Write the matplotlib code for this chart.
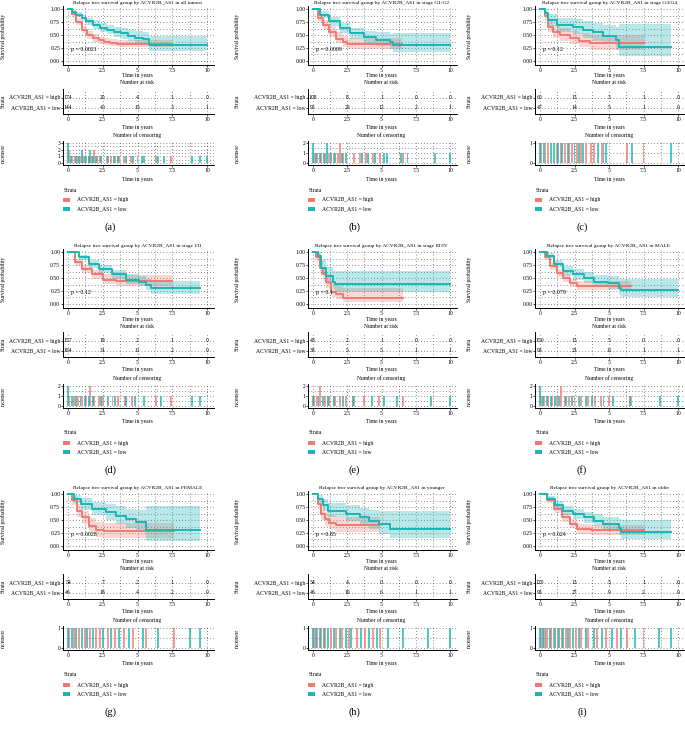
import numpy as np
import matplotlib
matplotlib.use("Agg")
import matplotlib.pyplot as plt
from matplotlib.patches import Rectangle
from matplotlib.ticker import MultipleLocator

plt.rcParams['font.family'] = ['Liberation Serif', 'DejaVu Serif']

# panel texts
subgroups = ["all tumors", "stage G1/G2", "stage G3/G4", "stage I/II", "stage III/IV",
             "MALE", "FEMALE", "younger", "older"]
panel_tags = ["(a)", "(b)", "(c)", "(d)", "(e)", "(f)", "(g)", "(h)", "(i)"]
p_values = ["0.0021", "0.0009", "0.12", "0.12", "0.1", "0.079", "0.0028", "0.85", "0.024"]
strata = ["ACVR2B_AS1 = high", "ACVR2B_AS1 = low"]
risk_times = [0, 2.5, 5, 7.5, 10]

# numbers at risk
risk_high = [[174, 20, 4, 1, 0], [108, 8, 1, 0, 0], [60, 13, 3, 1, 0],
             [157, 19, 2, 1, 0], [48, 2, 1, 0, 0], [150, 13, 5, 0, 0],
             [54, 7, 2, 1, 0], [54, 4, 0, 0, 0], [120, 13, 5, 1, 0]]
risk_low = [[144, 40, 15, 3, 1], [95, 29, 12, 2, 1], [47, 14, 5, 1, 0],
            [184, 31, 11, 2, 0], [38, 5, 5, 1, 1], [98, 23, 11, 1, 1],
            [46, 18, 4, 2, 0], [46, 19, 6, 1, 1], [98, 27, 9, 2, 0]]

# KM curves, high group
high_t = [[0, 0.3, 0.6, 1.0, 1.4, 1.8, 2.2, 2.6, 3.0, 3.5, 7.5],
          [0, 0.35, 0.7, 1.2, 1.7, 2.2, 2.45, 6.5],
          [0, 0.36, 0.6, 0.96, 1.45, 2.2, 2.8, 3.6, 7.5],
          [0, 0.5, 1.0, 1.75, 2.5, 3.45, 7.5],
          [0, 0.24, 0.48, 0.73, 0.97, 1.33, 1.7, 2.2, 6.6],
          [0, 0.37, 0.73, 1.2, 1.7, 2.2, 2.7, 6.6],
          [0, 0.3, 0.65, 1.0, 1.5, 2.0, 2.6, 7.6],
          [0, 0.36, 0.6, 0.85, 1.2, 1.7, 4.9],
          [0, 0.5, 1.0, 1.6, 2.2, 2.7, 3.7, 7.5]]
high_s = [[1, 0.9, 0.75, 0.6, 0.5, 0.44, 0.4, 0.37, 0.35, 0.33, 0.33],
          [1, 0.82, 0.69, 0.56, 0.43, 0.36, 0.33, 0.33],
          [1, 0.86, 0.66, 0.56, 0.5, 0.44, 0.39, 0.35, 0.35],
          [1, 0.8, 0.67, 0.57, 0.47, 0.44, 0.44],
          [1, 0.9, 0.7, 0.57, 0.43, 0.23, 0.2, 0.12, 0.12],
          [1, 0.9, 0.73, 0.6, 0.5, 0.4, 0.35, 0.35],
          [1, 0.88, 0.68, 0.55, 0.38, 0.3, 0.28, 0.28],
          [1, 0.81, 0.62, 0.52, 0.45, 0.4, 0.4],
          [1, 0.88, 0.72, 0.55, 0.42, 0.32, 0.3, 0.3]]
high_lo = [[1, 0.85, 0.69, 0.53, 0.43, 0.37, 0.33, 0.3, 0.28, 0.26, 0.26],
           [1, 0.75, 0.61, 0.47, 0.34, 0.27, 0.24, 0.24],
           [1, 0.77, 0.55, 0.45, 0.38, 0.32, 0.27, 0.22, 0.22],
           [1, 0.73, 0.59, 0.49, 0.38, 0.35, 0.33],
           [1, 0.82, 0.58, 0.44, 0.3, 0.13, 0.1, 0.04, 0.04],
           [1, 0.85, 0.66, 0.52, 0.42, 0.32, 0.27, 0.25],
           [1, 0.79, 0.56, 0.42, 0.26, 0.18, 0.16, 0.13],
           [1, 0.71, 0.5, 0.39, 0.32, 0.27, 0.27],
           [1, 0.82, 0.64, 0.47, 0.34, 0.24, 0.21, 0.2]]
high_hi = [[1, 0.95, 0.82, 0.67, 0.57, 0.51, 0.47, 0.44, 0.42, 0.41, 0.41],
           [1, 0.9, 0.79, 0.67, 0.55, 0.48, 0.45, 0.45],
           [1, 0.95, 0.78, 0.69, 0.63, 0.58, 0.54, 0.5, 0.5],
           [1, 0.87, 0.75, 0.66, 0.57, 0.55, 0.57],
           [1, 0.99, 0.84, 0.72, 0.58, 0.38, 0.35, 0.3, 0.3],
           [1, 0.95, 0.8, 0.68, 0.58, 0.49, 0.44, 0.46],
           [1, 0.97, 0.8, 0.68, 0.53, 0.46, 0.44, 0.44],
           [1, 0.92, 0.76, 0.66, 0.6, 0.56, 0.56],
           [1, 0.94, 0.8, 0.64, 0.51, 0.42, 0.4, 0.42]]

# KM curves, low group
low_t = [[0, 0.3, 0.6, 1.0, 1.3, 1.8, 2.3, 2.8, 3.3, 3.8, 4.3, 4.8, 5.4, 5.8, 10],
         [0, 0.5, 1.2, 2.0, 2.7, 3.7, 4.6, 5.6, 5.85, 10],
         [0, 0.36, 0.6, 1.2, 2.4, 3.1, 3.85, 4.6, 5.5, 5.7, 9.5],
         [0, 0.78, 1.5, 2.2, 3.2, 4.2, 5.1, 5.6, 6.0, 9.5],
         [0, 0.36, 0.6, 0.97, 1.45, 1.6, 10],
         [0, 0.5, 1.0, 1.7, 2.4, 3.2, 3.9, 4.9, 5.7, 5.85, 10],
         [0, 0.4, 0.9, 1.75, 2.7, 3.45, 4.2, 4.9, 5.6, 9.5],
         [0, 0.36, 0.73, 1.1, 2.4, 3.4, 4.1, 4.85, 5.6, 10],
         [0, 0.5, 1.1, 1.7, 2.4, 3.2, 3.9, 4.6, 5.7, 5.85, 9.5]]
low_s = [[1, 0.95, 0.89, 0.82, 0.76, 0.7, 0.64, 0.6, 0.56, 0.53, 0.49, 0.45, 0.42, 0.31, 0.31],
         [1, 0.89, 0.76, 0.63, 0.53, 0.46, 0.41, 0.36, 0.31, 0.31],
         [1, 0.92, 0.79, 0.69, 0.66, 0.6, 0.55, 0.49, 0.4, 0.27, 0.27],
         [1, 0.9, 0.77, 0.67, 0.57, 0.47, 0.43, 0.37, 0.31, 0.31],
         [1, 0.93, 0.7, 0.53, 0.43, 0.38, 0.38],
         [1, 0.93, 0.77, 0.63, 0.57, 0.5, 0.43, 0.4, 0.3, 0.26, 0.26],
         [1, 0.91, 0.81, 0.72, 0.65, 0.58, 0.52, 0.46, 0.3, 0.3],
         [1, 0.91, 0.78, 0.68, 0.62, 0.55, 0.49, 0.42, 0.33, 0.33],
         [1, 0.91, 0.78, 0.68, 0.62, 0.55, 0.49, 0.42, 0.35, 0.27, 0.27]]
low_lo = [[1, 0.91, 0.84, 0.76, 0.69, 0.62, 0.56, 0.51, 0.47, 0.43, 0.39, 0.35, 0.31, 0.19, 0.19],
          [1, 0.83, 0.68, 0.54, 0.43, 0.35, 0.29, 0.23, 0.17, 0.17],
          [1, 0.84, 0.68, 0.56, 0.52, 0.45, 0.39, 0.32, 0.22, 0.1, 0.1],
          [1, 0.85, 0.7, 0.59, 0.49, 0.38, 0.34, 0.27, 0.2, 0.2],
          [1, 0.85, 0.56, 0.38, 0.28, 0.23, 0.23],
          [1, 0.88, 0.69, 0.54, 0.47, 0.4, 0.33, 0.29, 0.18, 0.14, 0.14],
          [1, 0.83, 0.7, 0.59, 0.5, 0.42, 0.35, 0.28, 0.1, 0.1],
          [1, 0.83, 0.67, 0.55, 0.48, 0.4, 0.33, 0.24, 0.15, 0.15],
          [1, 0.86, 0.7, 0.59, 0.52, 0.44, 0.38, 0.3, 0.22, 0.13, 0.13]]
low_hi = [[1, 0.99, 0.95, 0.89, 0.83, 0.78, 0.73, 0.69, 0.66, 0.63, 0.6, 0.57, 0.55, 0.48, 0.48],
          [1, 0.96, 0.85, 0.73, 0.64, 0.58, 0.55, 0.52, 0.54, 0.54],
          [1, 1, 0.91, 0.83, 0.81, 0.77, 0.74, 0.7, 0.66, 0.72, 0.72],
          [1, 0.95, 0.84, 0.75, 0.66, 0.57, 0.53, 0.49, 0.44, 0.44],
          [1, 1, 0.86, 0.72, 0.65, 0.63, 0.63],
          [1, 0.98, 0.85, 0.73, 0.67, 0.61, 0.55, 0.53, 0.48, 0.48, 0.48],
          [1, 0.99, 0.92, 0.85, 0.8, 0.76, 0.72, 0.7, 0.77, 0.77],
          [1, 0.99, 0.9, 0.82, 0.78, 0.74, 0.7, 0.67, 0.67, 0.67],
          [1, 0.96, 0.86, 0.77, 0.72, 0.66, 0.62, 0.56, 0.52, 0.5, 0.5]]

# censoring times (a repeated time = two censored at that time)
cens_high = [[0.1, 0.1, 0.3, 0.5, 0.7, 0.9, 1.1, 1.3, 1.5, 1.7, 1.9, 1.9, 2.1, 2.3, 2.8, 3.1, 3.4, 3.7, 4.0, 4.5, 5.0, 6.3, 7.4],
             [0.1, 0.3, 0.6, 0.9, 1.2, 1.5, 1.8, 1.95, 1.95, 2.2, 3.0, 3.4, 3.9, 4.4, 4.9, 6.6],
             [0.1, 0.4, 0.6, 1.2, 1.5, 1.8, 2.1, 2.3, 2.7, 3.0, 3.3, 3.7, 3.9, 4.5, 6.3, 7.5],
             [0.1, 0.4, 0.7, 1.0, 1.3, 1.6, 1.6, 1.9, 2.2, 2.5, 3.2, 3.6, 4.1, 4.6, 6.3, 7.4],
             [0.1, 0.3, 0.5, 0.5, 0.9, 1.2, 1.6, 2.0, 2.4, 3.0, 3.7, 4.8, 6.6],
             [0.1, 0.3, 0.6, 0.9, 1.2, 1.5, 1.5, 1.8, 2.1, 2.5, 3.0, 3.5, 4.0, 4.4, 5.0, 6.6],
             [0.1, 0.4, 0.8, 1.2, 1.6, 2.0, 2.3, 2.9, 3.4, 4.0, 4.7, 5.6, 7.6],
             [0.1, 0.3, 0.6, 0.9, 1.3, 1.7, 2.1, 2.6, 3.2, 3.8, 4.4, 4.9],
             [0.1, 0.3, 0.5, 0.8, 1.0, 1.3, 1.6, 1.9, 2.2, 2.6, 3.0, 3.5, 4.1, 4.8, 5.6, 6.3, 7.5]]
cens_low = [[0.0, 0.0, 0.0, 0.2, 0.6, 0.8, 1.0, 1.0, 1.2, 1.5, 1.6, 1.6, 1.8, 2.0, 2.4, 2.9, 3.3, 3.6, 4.2, 4.7, 5.3, 5.5, 6.5, 6.9, 8.9, 9.5, 10.0],
            [0.0, 0.0, 0.2, 0.5, 0.8, 1.0, 1.0, 1.3, 1.6, 2.1, 2.4, 3.6, 4.0, 4.5, 5.2, 5.4, 6.4, 6.9, 8.9, 10.0],
            [0.0, 0.3, 0.8, 1.0, 1.3, 1.6, 2.0, 2.5, 2.8, 3.1, 4.2, 4.6, 4.8, 6.7, 9.5],
            [0.0, 0.0, 0.3, 0.6, 0.9, 1.2, 1.5, 1.8, 2.4, 2.9, 3.4, 4.2, 4.8, 5.5, 6.7, 8.9, 9.5],
            [0.0, 0.4, 0.7, 1.1, 1.5, 2.2, 2.9, 4.3, 5.2, 6.1, 8.6, 10.0],
            [0.0, 0.0, 0.2, 0.5, 0.8, 1.1, 1.4, 1.9, 2.3, 2.8, 3.3, 3.8, 4.6, 5.3, 6.5, 8.7, 10.0],
            [0.0, 0.3, 0.6, 1.0, 1.4, 1.8, 2.5, 3.1, 3.7, 4.4, 5.4, 6.5, 8.8, 9.5],
            [0.0, 0.2, 0.5, 0.8, 1.1, 1.5, 2.0, 2.4, 2.8, 3.5, 4.1, 4.7, 5.5, 6.6, 8.4, 10.0],
            [0.0, 0.2, 0.4, 0.7, 1.1, 1.4, 1.7, 2.0, 2.4, 2.8, 3.3, 3.9, 4.5, 5.2, 5.9, 6.9, 8.6, 9.5]]
cens_max = [3, 2, 1, 2, 2, 2, 1, 1, 1]

RED = '#F07A72'
TEAL = '#1DB5B5'
W, H = 685, 729
FS = 4.1
XLIM = (-0.35, 10.5)

fig = plt.figure(figsize=(W / 100, H / 100), dpi=100)

# pixel positions of x=0 and x=10 for each column, vertical offset of each row
col_x0 = [68, 313, 540]
col_x10 = [207, 450, 678]
col_lab = [60, 71, 66]   # distance of the rotated y labels left of the axes
row_off = [0, 243, 485]


def add_px_axes(left, top, right, bottom):
    return fig.add_axes([left / W, 1 - bottom / H, (right - left) / W, (bottom - top) / H])


def ftext(x, y, s, **kw):
    fig.text(x / W, 1 - y / H, s, **kw)


def style(ax):
    for side in ['top', 'right']:
        ax.spines[side].set_visible(False)
    for side in ['left', 'bottom']:
        ax.spines[side].set_linewidth(0.7)
    ax.tick_params(labelsize=FS, length=1.5, width=0.5, pad=0.6)
    ax.tick_params(which='minor', length=0)
    ax.set_xlim(*XLIM)
    ax.set_xticks(risk_times)
    ax.set_xticklabels(['0', '2.5', '5', '7.5', '10'])
    ax.xaxis.set_minor_locator(MultipleLocator(1.25))
    ax.grid(True, which='both', color='0.15', lw=0.5, linestyle=(0, (1, 3.5)))
    ax.set_axisbelow(True)


for i in range(9):
    r, c = divmod(i, 3)
    x0, x10, oy = col_x0[c], col_x10[c], row_off[r]
    s = (x10 - x0) / 10
    L = x0 + XLIM[0] * s
    R = x0 + XLIM[1] * s
    xc = (x0 + x10) / 2
    xl = L - col_lab[c]

    # survival curves
    ax = add_px_axes(L, oy + 6, R, oy + 65)
    style(ax)
    ax.set_ylim(-0.077, 1.058)
    ax.set_yticks([0, 0.25, 0.5, 0.75, 1.0])
    ax.set_yticklabels(['0.00', '0.25', '0.50', '0.75', '1.00'])
    ax.yaxis.set_minor_locator(MultipleLocator(0.125))
    for t, sv, lo, hi, col in [(high_t[i], high_s[i], high_lo[i], high_hi[i], RED),
                               (low_t[i], low_s[i], low_lo[i], low_hi[i], TEAL)]:
        ax.fill_between(t, lo, hi, step='post', color=col, alpha=0.3, lw=0)
        ax.step(t, sv, where='post', color=col, lw=1.4)
    ax.text(0.25, 0.22, 'p = ' + p_values[i], fontsize=FS + 0.2, va='center')
    ftext(xc, oy + 3, 'Relapse free survival group by ACVR2B_AS1 in ' + subgroups[i],
          fontsize=3.85, ha='center', va='center')
    ftext(xc, oy + 76, 'Time in years', fontsize=FS, ha='center', va='center')
    ftext(xl, oy + 36, 'Survival probability', fontsize=FS, rotation=90,
          ha='center', va='center')

    # risk table
    ftext(xc, oy + 83, 'Number at risk', fontsize=FS, ha='center', va='center')
    ax2 = add_px_axes(L, oy + 89, R, oy + 114)
    style(ax2)
    ax2.set_ylim(-0.65, 1.85)
    ax2.set_yticks([1, 0])
    ax2.set_yticklabels(strata)
    for tx, nh, nl in zip(risk_times, risk_high[i], risk_low[i]):
        ax2.text(tx, 1, str(nh), fontsize=FS, ha='center', va='center')
        ax2.text(tx, 0, str(nl), fontsize=FS, ha='center', va='center')
    ftext(xc, oy + 127, 'Time in years', fontsize=FS, ha='center', va='center')
    ftext(xl, oy + 101, 'Strata', fontsize=FS, rotation=90, ha='center', va='center')

    # censoring plot
    ftext(xc, oy + 135, 'Number of censoring', fontsize=FS, ha='center', va='center')
    m = cens_max[i]
    ax3 = add_px_axes(L, oy + 141, R, oy + 165)
    style(ax3)
    ax3.set_ylim(-0.1 * m, 1.1 * m)
    ax3.set_yticks(range(m + 1))
    ax3.yaxis.set_minor_locator(MultipleLocator(0.5))
    for times, col in [(cens_high[i], RED), (cens_low[i], TEAL)]:
        tt, nn = np.unique(times, return_counts=True)
        ax3.bar(tt, nn, width=0.14, color=col, alpha=0.75, lw=0)
    ftext(xc, oy + 179, 'Time in years', fontsize=FS, ha='center', va='center')
    ftext(xl, oy + 153, 'n.censor', fontsize=FS, rotation=90, ha='center', va='center')

    # legend
    ftext(L, oy + 190, 'Strata', fontsize=FS, ha='left', va='center')
    for k, (lab, col) in enumerate(zip(strata, [RED, TEAL])):
        yy = oy + 200 + 9 * k
        fig.add_artist(Rectangle(((L) / W, 1 - (yy + 2) / H), 7 / W, 4 / H,
                                 transform=fig.transFigure, color=col, lw=0))
        ftext(L + 14, yy, lab, fontsize=FS, ha='left', va='center')

    ftext(xc - 27, oy + 227, panel_tags[i], fontsize=7.5, ha='center', va='center')

fig.savefig('out.png', dpi=100)
